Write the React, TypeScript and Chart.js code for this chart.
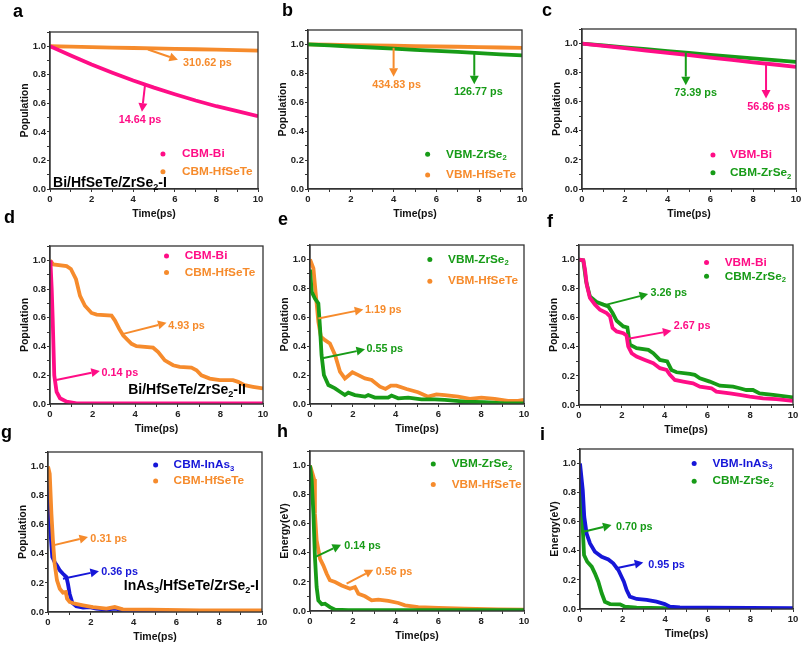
import React, { useEffect, useRef } from "react";
import { Chart, registerables } from "chart.js";
Chart.register(...registerables);

const FAMILY = "'Liberation Sans', Arial, sans-serif";
const PINK = "#ff0d86";
const ORANGE = "#f68b2c";
const GREEN = "#179b17";
const BLUE = "#1616d8";

// ---------- tick labels ----------
const xTickLabels = ["0", "2", "4", "6", "8", "10"];
const yTickLabels = ["0.0", "0.2", "0.4", "0.6", "0.8", "1.0"];

// ---------- panel a ----------
const aTime = [0, 1, 2, 3, 4, 5, 6, 7, 8, 9, 10];
const aCbmBi = [1.0, 0.935, 0.873, 0.815, 0.76, 0.71, 0.664, 0.62, 0.58, 0.545, 0.51];
const aCbmHfSeTe = [1.0, 0.997, 0.994, 0.991, 0.988, 0.985, 0.982, 0.979, 0.976, 0.973, 0.97];

// ---------- panel b ----------
const bTime = [0, 1, 2, 3, 4, 5, 6, 7, 8, 9, 10];
const bVbmZrSe2 = [1.0, 0.994, 0.986, 0.979, 0.971, 0.963, 0.955, 0.948, 0.94, 0.932, 0.925];
const bVbmHfSeTe = [1.0, 0.998, 0.996, 0.993, 0.991, 0.989, 0.986, 0.984, 0.982, 0.979, 0.977];

// ---------- panel c ----------
const cTime = [0, 1, 2, 3, 4, 5, 6, 7, 8, 9, 10];
const cVbmBi = [1.0, 0.984, 0.968, 0.952, 0.936, 0.92, 0.903, 0.887, 0.871, 0.856, 0.84];
const cCbmZrSe2 = [1.0, 0.987, 0.974, 0.961, 0.948, 0.935, 0.922, 0.91, 0.898, 0.886, 0.874];

// ---------- panel d ----------
const dBiTime = [0, 0.03, 0.08, 0.125, 0.2, 0.31, 0.47, 0.78, 1.25, 10];
const dCbmBi = [1.0, 0.96, 0.8, 0.6, 0.2, 0.085, 0.04, 0.016, 0.005, 0.005];
const dHfTime = [0, 0.16, 0.78, 0.98, 1.22, 1.41, 1.64, 1.95, 2.19, 2.89, 3.05, 3.25, 3.44, 3.83, 4.06, 4.84, 5.08, 5.39, 5.78, 6.09, 6.64, 6.88, 7.11, 7.5, 7.97, 8.59, 8.83, 9.14, 9.53, 10];
const dCbmHfSeTe = [1.0, 0.972, 0.96, 0.94, 0.869, 0.753, 0.684, 0.634, 0.622, 0.615, 0.581, 0.523, 0.477, 0.419, 0.403, 0.392, 0.362, 0.304, 0.27, 0.258, 0.253, 0.235, 0.2, 0.177, 0.166, 0.166, 0.154, 0.131, 0.12, 0.108];

// ---------- panel e ----------
const eZrTime = [0, 0.08, 0.23, 0.39, 0.47, 0.54, 0.65, 0.86, 1.17, 1.4, 1.63, 1.79, 2.1, 2.57, 2.72, 3.03, 3.65, 3.81, 4.12, 4.59, 5.21, 5.83, 6.3, 7.23, 8.16, 9.1, 10];
const eVbmZrSe2 = [0.93, 0.776, 0.73, 0.696, 0.523, 0.339, 0.2, 0.131, 0.108, 0.085, 0.062, 0.078, 0.062, 0.051, 0.062, 0.044, 0.044, 0.058, 0.039, 0.044, 0.032, 0.032, 0.028, 0.016, 0.012, 0.005, 0.005];
const eHfTime = [0, 0.16, 0.26, 0.39, 0.51, 0.7, 0.93, 1.17, 1.4, 1.63, 1.79, 1.98, 2.26, 2.57, 2.88, 3.27, 3.53, 3.78, 4.04, 4.51, 5.05, 5.52, 5.91, 6.3, 6.92, 7.47, 8.01, 8.63, 9.25, 9.72, 10];
const eVbmHfSeTe = [1.0, 0.938, 0.776, 0.569, 0.465, 0.442, 0.419, 0.339, 0.224, 0.177, 0.196, 0.219, 0.2, 0.177, 0.166, 0.12, 0.104, 0.127, 0.127, 0.104, 0.081, 0.051, 0.067, 0.062, 0.051, 0.035, 0.044, 0.035, 0.021, 0.021, 0.028];

// ---------- panel f ----------
const fBiTime = [0, 0.2, 0.28, 0.36, 0.51, 0.75, 0.98, 1.29, 1.45, 1.57, 1.76, 2.07, 2.22, 2.3, 2.46, 2.69, 3.08, 3.47, 3.78, 4.09, 4.25, 4.48, 4.87, 5.33, 5.65, 6.19, 6.42, 7.05, 7.51, 7.98, 8.6, 9.22, 10];
const fVbmBi = [1.0, 0.995, 0.931, 0.828, 0.736, 0.69, 0.655, 0.632, 0.609, 0.529, 0.506, 0.494, 0.478, 0.402, 0.356, 0.333, 0.31, 0.287, 0.253, 0.241, 0.207, 0.172, 0.161, 0.149, 0.126, 0.115, 0.092, 0.08, 0.069, 0.057, 0.046, 0.041, 0.028];
const fZrTime = [0, 0.2, 0.33, 0.51, 0.82, 1.14, 1.37, 1.57, 1.76, 2.07, 2.26, 2.38, 2.69, 3.24, 3.47, 3.78, 4.12, 4.32, 4.56, 5.18, 5.41, 5.65, 6.11, 6.58, 7.2, 7.51, 7.82, 8.13, 8.44, 9.07, 10];
const fCbmZrSe2 = [1.0, 0.995, 0.851, 0.747, 0.708, 0.69, 0.678, 0.632, 0.579, 0.54, 0.533, 0.414, 0.391, 0.379, 0.356, 0.31, 0.299, 0.241, 0.225, 0.214, 0.207, 0.184, 0.161, 0.133, 0.126, 0.115, 0.103, 0.103, 0.08, 0.069, 0.053];

// ---------- panel g ----------
const gInTime = [0, 0.05, 0.11, 0.2, 0.31, 0.42, 0.55, 0.7, 0.86, 0.93, 1.01, 1.14, 1.32, 1.64, 1.95, 2.26, 2.73, 3.12, 3.66, 4.75, 10];
const gCbmInAs3 = [0.98, 0.79, 0.56, 0.378, 0.343, 0.32, 0.286, 0.263, 0.24, 0.195, 0.126, 0.062, 0.039, 0.03, 0.034, 0.023, 0.016, 0.023, 0.011, 0.007, 0.007];
const gHfTime = [0, 0.08, 0.16, 0.23, 0.31, 0.42, 0.55, 0.7, 0.83, 0.89, 1.01, 1.25, 1.64, 2.1, 2.73, 3.12, 3.5, 4.75, 7.09, 10];
const gCbmHfSeTe = [1.0, 0.95, 0.675, 0.492, 0.332, 0.217, 0.16, 0.133, 0.137, 0.092, 0.069, 0.057, 0.046, 0.034, 0.023, 0.034, 0.018, 0.016, 0.011, 0.011];

// ---------- panel h ----------
const hZrTime = [0, 0.08, 0.16, 0.23, 0.31, 0.39, 0.55, 0.7, 0.93, 1.17, 1.79, 10];
const hVbmZrSe2 = [1.0, 0.897, 0.668, 0.371, 0.165, 0.073, 0.046, 0.05, 0.027, 0.009, 0.005, 0.005];
const hHfTime = [0, 0.12, 0.19, 0.23, 0.31, 0.47, 0.62, 0.78, 0.93, 1.17, 1.48, 1.87, 2.1, 2.26, 2.57, 2.88, 3.19, 3.66, 4.13, 4.44, 5.06, 6.0, 7.24, 8.8, 10];
const hVbmHfSeTe = [1.0, 0.943, 0.908, 0.668, 0.485, 0.359, 0.314, 0.256, 0.211, 0.199, 0.176, 0.153, 0.165, 0.119, 0.101, 0.073, 0.078, 0.069, 0.055, 0.039, 0.027, 0.021, 0.016, 0.011, 0.009];

// ---------- panel i ----------
const iInTime = [0, 0.13, 0.2, 0.31, 0.47, 0.7, 1.02, 1.33, 1.56, 1.8, 1.95, 2.06, 2.19, 2.34, 2.66, 3.13, 3.59, 3.98, 4.22, 4.69, 5.94, 10];
const iVbmInAs3 = [1.0, 0.817, 0.634, 0.519, 0.451, 0.394, 0.359, 0.341, 0.314, 0.268, 0.222, 0.188, 0.13, 0.085, 0.069, 0.062, 0.05, 0.034, 0.016, 0.011, 0.009, 0.005];
const iZrTime = [0, 0.11, 0.19, 0.34, 0.55, 0.7, 0.86, 1.02, 1.17, 1.41, 1.88, 2.11, 2.66, 3.91, 4.38, 10];
const iCbmZrSe2 = [0.886, 0.611, 0.371, 0.325, 0.291, 0.245, 0.188, 0.108, 0.05, 0.034, 0.032, 0.016, 0.009, 0.005, 0, 0];

type Series = { label: string; color: string; x: number[]; y: number[]; order?: number };
type Arrow = { color: string; from: [number, number]; to: [number, number]; text: string; at: [number, number]; align: "left" | "center" };
type Panel = {
  letter: string; letterPos: [number, number];
  area: { L: number; R: number; T: number; B: number };
  yTitle: string;
  series: Series[];
  legend: { dotX: number; textX: number; ys: number[] };
  arrows: Arrow[];
  note?: { text: string; at: [number, number] };
};

const panels: Panel[] = [
  {
    letter: "a", letterPos: [13, 17], area: { L: 50, R: 258, T: 32, B: 189 }, yTitle: "Population",
    series: [
      { label: "CBM-Bi", color: PINK, x: aTime, y: aCbmBi },
      { label: "CBM-HfSeTe", color: ORANGE, x: aTime, y: aCbmHfSeTe },
    ],
    legend: { dotX: 5.43, textX: 6.35, ys: [0.245, 0.12] },
    arrows: [
      { color: ORANGE, from: [4.71, 0.977], to: [6.15, 0.906], text: "310.62 ps", at: [6.4, 0.885], align: "left" },
      { color: PINK, from: [4.57, 0.731], to: [4.42, 0.541], text: "14.64 ps", at: [4.33, 0.485], align: "center" },
    ],
    note: { text: "Bi/HfSeTe/ZrSe₂-I", at: [0.15, 0.042] },
  },
  {
    letter: "b", letterPos: [282, 16], area: { L: 308, R: 522, T: 30, B: 189 }, yTitle: "Population",
    series: [
      { label: "VBM-ZrSe₂", color: GREEN, x: bTime, y: bVbmZrSe2 },
      { label: "VBM-HfSeTe", color: ORANGE, x: bTime, y: bVbmHfSeTe },
    ],
    legend: { dotX: 5.59, textX: 6.45, ys: [0.24, 0.096] },
    arrows: [
      { color: ORANGE, from: [4.0, 0.977], to: [4.0, 0.776], text: "434.83 ps", at: [4.14, 0.718], align: "center" },
      { color: GREEN, from: [7.77, 0.936], to: [7.77, 0.725], text: "126.77 ps", at: [7.96, 0.668], align: "center" },
    ],
  },
  {
    letter: "c", letterPos: [542, 16], area: { L: 582, R: 796, T: 29, B: 189 }, yTitle: "Population",
    series: [
      { label: "VBM-Bi", color: PINK, x: cTime, y: cVbmBi },
      { label: "CBM-ZrSe₂", color: GREEN, x: cTime, y: cCbmZrSe2 },
    ],
    legend: { dotX: 6.12, textX: 6.92, ys: [0.233, 0.112] },
    arrows: [
      { color: GREEN, from: [4.85, 0.935], to: [4.85, 0.714], text: "73.39 ps", at: [5.31, 0.657], align: "center" },
      { color: PINK, from: [8.6, 0.86], to: [8.6, 0.622], text: "56.86 ps", at: [8.72, 0.561], align: "center" },
    ],
  },
  {
    letter: "d", letterPos: [4, 223], area: { L: 50, R: 263, T: 246, B: 404 }, yTitle: "Population",
    series: [
      { label: "CBM-Bi", color: PINK, x: dBiTime, y: dCbmBi },
      { label: "CBM-HfSeTe", color: ORANGE, x: dHfTime, y: dCbmHfSeTe },
    ],
    legend: { dotX: 5.47, textX: 6.33, ys: [1.03, 0.915] },
    arrows: [
      { color: ORANGE, from: [3.44, 0.488], to: [5.47, 0.565], text: "4.93 ps", at: [5.55, 0.546], align: "left" },
      { color: PINK, from: [0.23, 0.166], to: [2.34, 0.23], text: "0.14 ps", at: [2.42, 0.219], align: "left" },
    ],
    note: { text: "Bi/HfSeTe/ZrSe₂-II", at: [3.67, 0.097] },
  },
  {
    letter: "e", letterPos: [278, 225], area: { L: 310, R: 524, T: 245, B: 404 }, yTitle: "Population",
    series: [
      { label: "VBM-ZrSe₂", color: GREEN, x: eZrTime, y: eVbmZrSe2 },
      { label: "VBM-HfSeTe", color: ORANGE, x: eHfTime, y: eVbmHfSeTe },
    ],
    legend: { dotX: 5.6, textX: 6.45, ys: [1.0, 0.85] },
    arrows: [
      { color: ORANGE, from: [0.39, 0.592], to: [2.49, 0.654], text: "1.19 ps", at: [2.57, 0.65], align: "left" },
      { color: GREEN, from: [0.58, 0.316], to: [2.57, 0.378], text: "0.55 ps", at: [2.64, 0.378], align: "left" },
    ],
  },
  {
    letter: "f", letterPos: [547, 227], area: { L: 579, R: 793, T: 245, B: 405 }, yTitle: "Population",
    series: [
      { label: "VBM-Bi", color: PINK, x: fBiTime, y: fVbmBi },
      { label: "CBM-ZrSe₂", color: GREEN, x: fZrTime, y: fCbmZrSe2 },
    ],
    legend: { dotX: 5.96, textX: 6.81, ys: [0.98, 0.885] },
    arrows: [
      { color: GREEN, from: [1.29, 0.69], to: [3.23, 0.763], text: "3.26 ps", at: [3.34, 0.77], align: "left" },
      { color: PINK, from: [2.3, 0.455], to: [4.32, 0.51], text: "2.67 ps", at: [4.43, 0.545], align: "left" },
    ],
  },
  {
    letter: "g", letterPos: [1, 438], area: { L: 48, R: 262, T: 452, B: 612 }, yTitle: "Population",
    series: [
      { label: "CBM-InAs₃", color: BLUE, x: gInTime, y: gCbmInAs3, order: 2 },
      { label: "CBM-HfSeTe", color: ORANGE, x: gHfTime, y: gCbmHfSeTe, order: 1 },
    ],
    legend: { dotX: 5.03, textX: 5.87, ys: [1.011, 0.9] },
    arrows: [
      { color: ORANGE, from: [0.23, 0.458], to: [1.87, 0.515], text: "0.31 ps", at: [1.98, 0.503], align: "left" },
      { color: BLUE, from: [0.7, 0.229], to: [2.38, 0.281], text: "0.36 ps", at: [2.49, 0.275], align: "left" },
    ],
    note: { text: "InAs₃/HfSeTe/ZrSe₂-I", at: [3.54, 0.176] },
  },
  {
    letter: "h", letterPos: [277, 437], area: { L: 310, R: 524, T: 451, B: 611 }, yTitle: "Energy(eV)",
    series: [
      { label: "VBM-ZrSe₂", color: GREEN, x: hZrTime, y: hVbmZrSe2 },
      { label: "VBM-HfSeTe", color: ORANGE, x: hHfTime, y: hVbmHfSeTe },
    ],
    legend: { dotX: 5.76, textX: 6.62, ys: [1.01, 0.87] },
    arrows: [
      { color: GREEN, from: [0.23, 0.371], to: [1.45, 0.455], text: "0.14 ps", at: [1.6, 0.446], align: "left" },
      { color: ORANGE, from: [1.71, 0.188], to: [2.96, 0.284], text: "0.56 ps", at: [3.07, 0.268], align: "left" },
    ],
  },
  {
    letter: "i", letterPos: [540, 440], area: { L: 580, R: 793, T: 449, B: 609 }, yTitle: "Energy(eV)",
    series: [
      { label: "VBM-InAs₃", color: BLUE, x: iInTime, y: iVbmInAs3 },
      { label: "CBM-ZrSe₂", color: GREEN, x: iZrTime, y: iCbmZrSe2 },
    ],
    legend: { dotX: 5.36, textX: 6.22, ys: [1.0, 0.879] },
    arrows: [
      { color: GREEN, from: [0.16, 0.531], to: [1.48, 0.577], text: "0.70 ps", at: [1.69, 0.565], align: "left" },
      { color: BLUE, from: [1.64, 0.279], to: [2.97, 0.32], text: "0.95 ps", at: [3.2, 0.302], align: "left" },
    ],
  },
];

const W = 803;
const H = 647;
const Y_AXIS_W = 40;
const X_AXIS_H = 25;

const SUBS: Record<string, string> = { "₂": "2", "₃": "3" };

function textRuns(text: string) {
  const out: { t: string; sub: boolean }[] = [];
  let cur = "";
  let curSub = false;
  for (const ch of text) {
    const sub = ch in SUBS;
    const c = sub ? SUBS[ch] : ch;
    if (sub !== curSub && cur) {
      out.push({ t: cur, sub: curSub });
      cur = "";
    }
    curSub = sub;
    cur += c;
  }
  if (cur) out.push({ t: cur, sub: curSub });
  return out;
}

function drawRich(ctx: CanvasRenderingContext2D, text: string, x: number, y: number, size: number, color: string, align: "left" | "center") {
  const runs = textRuns(text);
  const fontFor = (sub: boolean) => `bold ${sub ? size * 0.65 : size}px ${FAMILY}`;
  let w = 0;
  for (const r of runs) {
    ctx.font = fontFor(r.sub);
    w += ctx.measureText(r.t).width;
  }
  let cx = align === "center" ? x - w / 2 : x;
  ctx.textAlign = "left";
  ctx.textBaseline = "middle";
  ctx.fillStyle = color;
  for (const r of runs) {
    ctx.font = fontFor(r.sub);
    ctx.fillText(r.t, cx, r.sub ? y + size * 0.32 : y);
    cx += ctx.measureText(r.t).width;
  }
}

function drawArrow(ctx: CanvasRenderingContext2D, x1: number, y1: number, x2: number, y2: number, color: string) {
  const ang = Math.atan2(y2 - y1, x2 - x1);
  const head = 8.5;
  const hw = 4.5;
  const bx = x2 - head * Math.cos(ang);
  const by = y2 - head * Math.sin(ang);
  ctx.strokeStyle = color;
  ctx.fillStyle = color;
  ctx.lineWidth = 2;
  ctx.beginPath();
  ctx.moveTo(x1, y1);
  ctx.lineTo(bx, by);
  ctx.stroke();
  ctx.beginPath();
  ctx.moveTo(x2, y2);
  ctx.lineTo(bx - hw * Math.sin(ang), by + hw * Math.cos(ang));
  ctx.lineTo(bx + hw * Math.sin(ang), by - hw * Math.cos(ang));
  ctx.closePath();
  ctx.fill();
}

function decorate(chart: any, p: Panel) {
  const ctx: CanvasRenderingContext2D = chart.ctx;
  const xs = chart.scales.x;
  const ys = chart.scales.y;
  const a = chart.chartArea;
  const px = (v: number) => xs.getPixelForValue(v);
  const py = (v: number) => ys.getPixelForValue(v);
  ctx.save();
  // frame
  ctx.strokeStyle = "#333";
  ctx.lineWidth = 1.3;
  ctx.strokeRect(a.left, a.top, a.right - a.left, a.bottom - a.top);
  // panel letter
  ctx.fillStyle = "#000";
  ctx.font = `bold 18px ${FAMILY}`;
  ctx.textAlign = "left";
  ctx.textBaseline = "alphabetic";
  ctx.fillText(p.letter, p.letterPos[0], p.letterPos[1]);
  // axis titles
  ctx.fillStyle = "#111";
  ctx.font = `bold 10.5px ${FAMILY}`;
  ctx.textAlign = "center";
  ctx.textBaseline = "middle";
  ctx.fillText("Time(ps)", (a.left + a.right) / 2, a.bottom + 25);
  ctx.save();
  ctx.translate(a.left - 24.5, (a.top + a.bottom) / 2);
  ctx.rotate(-Math.PI / 2);
  ctx.fillText(p.yTitle, 0, 0);
  ctx.restore();
  // legend
  p.series.forEach((s, i) => {
    const yy = py(p.legend.ys[i]);
    ctx.fillStyle = s.color;
    ctx.beginPath();
    ctx.arc(px(p.legend.dotX), yy, 2.5, 0, Math.PI * 2);
    ctx.fill();
    drawRich(ctx, s.label, px(p.legend.textX), yy, 11.8, s.color, "left");
  });
  // arrows
  for (const ar of p.arrows) {
    drawArrow(ctx, px(ar.from[0]), py(ar.from[1]), px(ar.to[0]), py(ar.to[1]), ar.color);
    drawRich(ctx, ar.text, px(ar.at[0]), py(ar.at[1]), 10.8, ar.color, ar.align);
  }
  if (p.note) {
    drawRich(ctx, p.note.text, px(p.note.at[0]), py(p.note.at[1]), 14, "#000", "left");
  }
  ctx.restore();
}

function PanelChart({ p, idx }: { p: Panel; idx: number }) {
  const ref = useRef<HTMLCanvasElement | null>(null);
  useEffect(() => {
    if (!ref.current) return;
    const tickFont = { family: FAMILY, size: 9.5, weight: "bold" as const };
    const chart = new Chart(ref.current, {
      type: "line",
      data: {
        datasets: p.series.map((s, i) => ({
          label: s.label,
          data: s.x.map((xv, k) => ({ x: xv, y: s.y[k] })),
          borderColor: s.color,
          backgroundColor: s.color,
          borderWidth: 3.8,
          pointRadius: 0,
          tension: 0,
          fill: false,
          order: s.order ?? i,
        })),
      },
      options: {
        responsive: false,
        animation: false,
        events: [],
        layout: {
          padding: {
            left: p.area.L - Y_AXIS_W,
            right: W - p.area.R,
            top: p.area.T,
            bottom: H - p.area.B - X_AXIS_H,
          },
        },
        plugins: { legend: { display: false }, tooltip: { enabled: false } },
        scales: {
          x: {
            type: "linear",
            min: 0,
            max: 10,
            afterFit: (s: any) => { s.height = X_AXIS_H; },
            ticks: {
              stepSize: 1,
              autoSkip: false,
              maxRotation: 0,
              padding: 1.5,
              color: "#222",
              font: tickFont,
              callback: (v: any) => {
                const n = Math.round(Number(v));
                return n % 2 === 0 ? xTickLabels[n / 2] : "";
              },
            },
            grid: { drawOnChartArea: false, drawTicks: true, tickLength: 3, tickColor: "#333" },
            border: { color: "#333", width: 1.3 },
          },
          y: {
            type: "linear",
            min: 0,
            max: 1.1,
            afterFit: (s: any) => { s.width = Y_AXIS_W; },
            ticks: {
              stepSize: 0.1,
              autoSkip: false,
              padding: 1,
              color: "#222",
              font: tickFont,
              callback: (v: any) => {
                const n = Math.round(Number(v) * 10);
                return n % 2 === 0 && n / 2 < yTickLabels.length ? yTickLabels[n / 2] : "";
              },
            },
            grid: { drawOnChartArea: false, drawTicks: true, tickLength: 3, tickColor: "#333" },
            border: { color: "#333", width: 1.3 },
          },
        },
      },
      plugins: [{ id: "decor" + idx, afterDraw: (c: any) => decorate(c, p) }],
    } as any);
    return () => chart.destroy();
  }, [p, idx]);
  return (
    <canvas
      ref={ref}
      width={W}
      height={H}
      style={{ position: "absolute", left: 0, top: 0, width: W, height: H }}
    />
  );
}

export default function App() {
  return (
    <div style={{ position: "absolute", left: 0, top: 0, width: W, height: H, background: "#fff", overflow: "hidden" }}>
      {panels.map((p, i) => (
        <PanelChart key={i} p={p} idx={i} />
      ))}
    </div>
  );
}
